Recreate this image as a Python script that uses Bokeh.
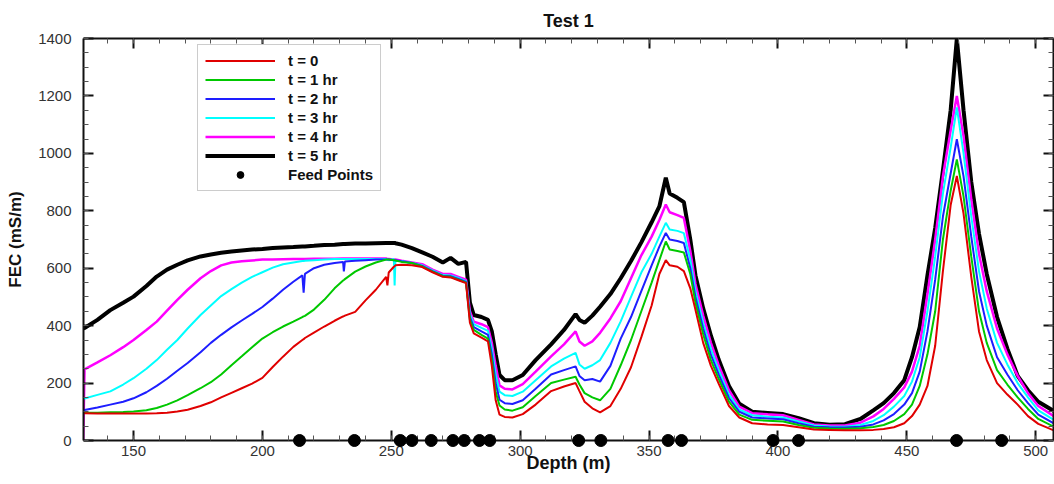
from bokeh.plotting import figure
from bokeh.models import (LinearAxis, SingleIntervalTicker, Legend, LegendItem, Range1d,
                          CustomJSTickFormatter)
from bokeh.embed import file_html
from bokeh.resources import INLINE

# ---------------- data ----------------
depth = [130.5, 131, 136, 141, 146, 150, 155, 159, 163, 167, 171, 176, 180, 184, 188, 192, 196, 200,
         204, 208, 212, 215.5, 216, 216.5, 220, 224, 228, 231.3, 231.6, 232, 236, 240, 244, 248, 248.5,
         249, 251, 251.3, 251.6, 254, 258, 262, 266, 270, 273, 276, 279, 280.5, 282, 285, 287.5, 289,
         290.5, 292, 294, 297, 301, 306, 312, 317, 321.5, 323, 325, 328, 331, 335, 339, 343, 347, 351,
         354, 356.5, 358, 361, 363.5, 366, 368, 371, 374, 377, 381, 385, 390, 396, 402, 408, 414, 420,
         426, 432, 437, 441, 445, 449, 452, 455, 458, 461, 464, 467, 469.4, 472, 475, 478, 481, 485,
         489, 493, 497, 501, 507]

fec_t0 = [95, 95, 94, 94, 94, 94, 94, 95, 97, 101, 107, 120, 133, 150, 166, 182, 198, 218,
          256, 292, 326, 350, 353, 357, 376, 397, 417, 432, 433, 435, 448, 488, 525, 570, 540,
          585, 605, 607, 610, 612, 610, 604, 586, 570, 568, 558, 548, 410, 373, 358, 345, 260,
          140, 90, 82, 80, 92, 125, 172, 188, 200, 172, 135, 112, 98, 120, 180, 255, 360, 470,
          580, 628, 610, 605, 590, 530, 455, 340, 260, 198, 120, 80, 60, 56, 54, 46, 38, 37,
          36, 36, 37, 40, 46, 60, 85, 125, 190, 330, 590, 820, 921, 790, 570, 380, 280, 200,
          160, 125, 85, 58, 35]

fec_t1 = [97, 97, 97, 98, 99, 101, 105, 113, 125, 140, 158, 182, 203, 230, 262, 293, 325, 355,
          377, 397, 414, 430, 432, 434, 456, 490, 530, 557, 559, 562, 588, 606, 620, 630, 630,
          630, 628, 628, 627, 622, 618, 606, 588, 572, 570, 560, 550, 420, 385, 368, 355, 280,
          170, 122, 108, 104, 116, 155, 200, 212, 222, 195, 165, 150, 140, 180, 262, 350, 450, 550,
          628, 693, 665, 660, 655, 580, 480, 370, 280, 215, 135, 90, 72, 69, 66, 54, 44, 42,
          41, 43, 47, 54, 68, 92, 125, 190, 300, 450, 700, 870, 979, 850, 640, 450, 340, 245,
          195, 150, 110, 75, 48]

fec_t2 = [105, 106, 115, 125, 135, 147, 168, 190, 215, 243, 270, 307, 340, 368, 394, 418, 441, 465,
          494, 525, 553, 575, 515, 580, 600, 612, 618, 622, 589, 623, 626, 628, 630, 630, 630,
          630, 628, 628, 628, 624, 618, 608, 590, 574, 572, 563, 552, 430, 395, 380, 368, 300,
          200, 142, 130, 127, 140, 180, 230, 245, 258, 225, 210, 214, 205, 260, 355, 430, 520, 610,
          675, 723, 700, 695, 688, 600, 500, 390, 298, 230, 148, 100, 80, 77, 74, 60, 48, 46,
          45, 48, 56, 70, 92, 125, 165, 240, 380, 560, 780, 930, 1049, 920, 710, 520, 400, 290,
          230, 175, 130, 90, 60]

fec_t3 = [145, 146, 159, 171, 195, 217, 250, 280, 316, 350, 390, 437, 470, 503, 527, 550, 570, 586,
          602, 614, 620, 625, 625, 626, 628, 630, 632, 632, 632, 632, 632, 632, 632, 632, 630,
          628, 632, 540, 625, 625, 618, 610, 592, 576, 575, 566, 555, 440, 405, 392, 382, 320,
          230, 170, 158, 155, 170, 210, 258, 285, 305, 265, 250, 262, 280, 340, 415, 500, 585, 650,
          710, 758, 735, 730, 722, 630, 520, 410, 318, 245, 160, 108, 88, 83, 80, 66, 52, 49,
          48, 54, 68, 88, 118, 155, 205, 290, 450, 640, 860, 1020, 1160, 1000, 780, 590, 460, 340,
          265, 200, 150, 105, 72]

fec_t4 = [0, 248, 272, 297, 325, 350, 385, 414, 452, 490, 525, 565, 590, 610, 620, 624, 627, 630,
          630, 631, 632, 632, 632, 632, 633, 633, 633, 634, 634, 634, 634, 634, 634, 634, 632,
          632, 630, 630, 630, 626, 620, 614, 595, 580, 580, 570, 560, 450, 414, 405, 395, 340,
          260, 192, 180, 178, 196, 240, 293, 335, 380, 345, 330, 345, 375, 425, 485, 565, 645, 710,
          768, 822, 795, 785, 775, 660, 545, 435, 340, 262, 175, 118, 95, 91, 88, 72, 56, 52,
          52, 62, 84, 110, 145, 185, 240, 330, 510, 700, 920, 1080, 1200, 1060, 840, 650, 520, 390,
          300, 225, 165, 120, 85]

fec_t5 = [390, 392, 420, 454, 480, 501, 538, 571, 595, 612, 627, 641, 648, 654, 658, 662, 665, 667,
          670, 672, 674, 676, 676, 676, 678, 681, 682, 684, 684, 684, 686, 686, 687, 688, 688,
          688, 688, 688, 687, 682, 670, 655, 640, 620, 636, 615, 622, 480, 437, 430, 420, 380,
          300, 228, 210, 210, 228, 280, 335, 385, 440, 420, 410, 435, 466, 510, 565, 625, 690, 760,
          815, 915, 860, 845, 830, 700, 575, 460, 365, 282, 190, 128, 100, 96, 92, 78, 60, 55,
          57, 75, 105, 130, 165, 210, 290, 395, 575, 740, 940, 1150, 1399, 1150, 900, 720, 580, 430,
          320, 225, 175, 135, 103]

feed_depth = [214.4, 235.7, 253.5, 258.0, 265.5, 273.9, 278.3, 284.2, 288.2,
              322.7, 331.3, 357.4, 362.6, 398.1, 408.0, 469.3, 486.8]
feed_fec = [0] * len(feed_depth)

labels = ["t = 0", "t = 1 hr", "t = 2 hr", "t = 3 hr", "t = 4 hr", "t = 5 hr"]
series = [fec_t0, fec_t1, fec_t2, fec_t3, fec_t4, fec_t5]
colors = ["#e00000", "#00c800", "#1e1eff", "#00ffff", "#ff00ff", "#000000"]
widths = [2, 2, 2, 2, 2.5, 4]

FONT = "Liberation Sans"

# ---------------- figure ----------------
p = figure(width=1054, height=484, output_backend="svg", toolbar_location=None,
           x_range=Range1d(130.6, 506.9), y_range=Range1d(0, 1400),
           min_border_left=83, min_border_right=1, min_border_top=38, min_border_bottom=44,
           x_axis_type=None, y_axis_type=None)
p.outline_line_color = None
p.background_fill_color = "white"
p.border_fill_color = "white"

p.title.text = "Test 1"
p.title.align = "center"
p.title.text_font = FONT
p.title.text_font_style = "bold"
p.title.text_font_size = "18px"
p.title.text_color = "#111111"
p.title.standoff = 16

xt = SingleIntervalTicker(interval=50, num_minor_ticks=5)
yt = SingleIntervalTicker(interval=200, num_minor_ticks=4)
blank = CustomJSTickFormatter(code="return ''")


def style_axis(ax, show_labels):
    ax.axis_line_width = 2
    ax.axis_line_color = "#111111"
    ax.major_tick_in = 10
    ax.major_tick_out = 0
    ax.minor_tick_in = 5
    ax.minor_tick_out = 0
    ax.major_tick_line_width = 2
    ax.major_tick_line_color = "#111111"
    ax.minor_tick_line_color = "#555555"
    ax.major_label_text_font = FONT
    ax.major_label_text_color = "#333333"
    ax.major_label_text_font_size = "15px"
    if not show_labels:
        ax.formatter = blank
        ax.major_label_standoff = 0


xb = LinearAxis(ticker=xt, axis_label="Depth (m)")
style_axis(xb, True)
xb.major_label_standoff = 5
xb.axis_label_standoff = -6
xb.axis_label_text_font = FONT
xb.axis_label_text_font_style = "bold"
xb.axis_label_text_font_size = "18px"
xb.axis_label_text_color = "#111111"
p.add_layout(xb, "below")

yl = LinearAxis(ticker=yt, axis_label="FEC (mS/m)")
style_axis(yl, True)
yl.major_label_standoff = 12
yl.axis_label_standoff = 10
yl.axis_label_text_font = FONT
yl.axis_label_text_font_style = "bold"
yl.axis_label_text_font_size = "17px"
yl.axis_label_text_color = "#111111"
p.add_layout(yl, "left")

xa = LinearAxis(ticker=xt)
style_axis(xa, False)
p.add_layout(xa, "above")

yr = LinearAxis(ticker=yt)
style_axis(yr, False)
p.add_layout(yr, "right")

p.xgrid.ticker = xt
p.ygrid.ticker = yt
for g in (p.xgrid, p.ygrid):
    g.grid_line_color = "#c8c8c8"
    g.grid_line_dash = "2 2"
    g.grid_line_width = 1

# draw black first so the coloured lines sit on top of it
renderers = {}
for i in reversed(range(6)):
    renderers[i] = p.line(depth, series[i], line_color=colors[i], line_width=widths[i])

feed_r = p.scatter(feed_depth, feed_fec, size=12, marker="circle", fill_color="black",
                   line_color="black", level="overlay")

items = [LegendItem(label=labels[i], renderers=[renderers[i]]) for i in range(6)]
items.append(LegendItem(label="Feed Points", renderers=[feed_r]))
legend = Legend(items=items, location=(114, 249))
legend.label_text_font = FONT
legend.label_text_font_style = "bold"
legend.label_text_font_size = "15px"
legend.label_text_color = "#111111"
legend.glyph_width = 70
legend.glyph_height = 17
legend.label_height = 17
legend.label_standoff = 13
legend.spacing = 2
legend.padding = 7
legend.margin = 0
legend.border_line_color = "#999999"
legend.border_line_width = 1
legend.background_fill_alpha = 1
p.add_layout(legend)

open("out.html", "w").write(file_html(p, INLINE))
